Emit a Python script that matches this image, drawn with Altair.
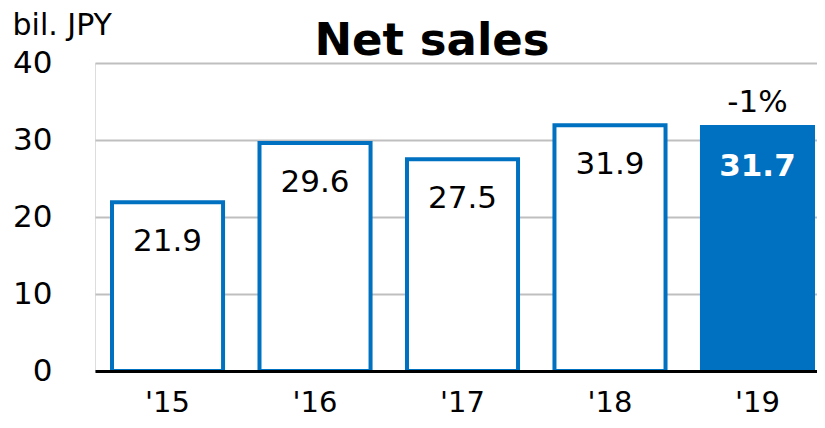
import altair as alt
import pandas as pd

years = ["'15", "'16", "'17", "'18", "'19"]
sales = [21.9, 29.6, 27.5, 31.9, 31.7]
labels = ["21.9", "29.6", "27.5", "31.9", "31.7"]
notes = ["", "", "", "", "-1%"]

df = pd.DataFrame({"year": years, "sales": sales, "label": labels, "note": notes})
df["latest"] = df["year"] == "'19"

BLUE = "#0070C0"
FONT = "DejaVu Sans"

x = alt.X("year:N", sort=years, title=None,
          scale=alt.Scale(paddingInner=0.247, paddingOuter=0.0712, align=0.81),
          axis=alt.Axis(labelAngle=0, labelFontSize=29, labelFont=FONT, labelColor="#000000",
                        ticks=False, domainColor="#000000", domainWidth=3, labelPadding=17,
                        zindex=2, grid=False))
y = alt.Y("sales:Q", scale=alt.Scale(domain=[0, 40]),
          axis=alt.Axis(values=[0, 10, 20, 30, 40], labelFontSize=31, labelFont=FONT,
                        labelColor="#000000", ticks=False, domain=False, labelPadding=43,
                        gridColor="#BFBFBF", gridWidth=2, title="bil. JPY", titleAngle=0,
                        titleFont=FONT, titleFontSize=30, titleFontWeight="normal",
                        titleColor="#000000", titleAlign="left", titleBaseline="middle",
                        titleX=-83, titleY=-38))

base = alt.Chart(df).encode(x=x)

bars = base.mark_bar(stroke=BLUE, strokeWidth=4).encode(
    y=y,
    fill=alt.condition("datum.latest", alt.value(BLUE), alt.value("#FFFFFF")),
)

txt_normal = base.transform_filter("!datum.latest").mark_text(
    font=FONT, fontSize=31, baseline="middle", dy=40, color="#000000"
).encode(y="sales:Q", text="label:N")

txt_bold = base.transform_filter("datum.latest").mark_text(
    font=FONT, fontSize=31, fontWeight="bold", baseline="middle", dy=40, color="#FFFFFF"
).encode(y="sales:Q", text="label:N")

note = base.transform_filter("datum.latest").mark_text(
    font=FONT, fontSize=31, baseline="middle", dy=-24, color="#000000"
).encode(y="sales:Q", text="note:N")

chart = alt.layer(bars, txt_normal, txt_bold, note).properties(
    width=722, height=308,
    title=alt.TitleParams("Net sales", font=FONT, fontSize=45, fontWeight="bold",
                          color="#000000", anchor="middle", dx=-24, dy=58, offset=4),
    autosize=alt.AutoSizeParams(type="none"),
    padding={"left": 87, "top": 55, "right": 0, "bottom": 49},
).configure_view(stroke=None).configure(background="#FFFFFF")

chart.save("out.html", embed_options={"renderer": "svg", "actions": False})
